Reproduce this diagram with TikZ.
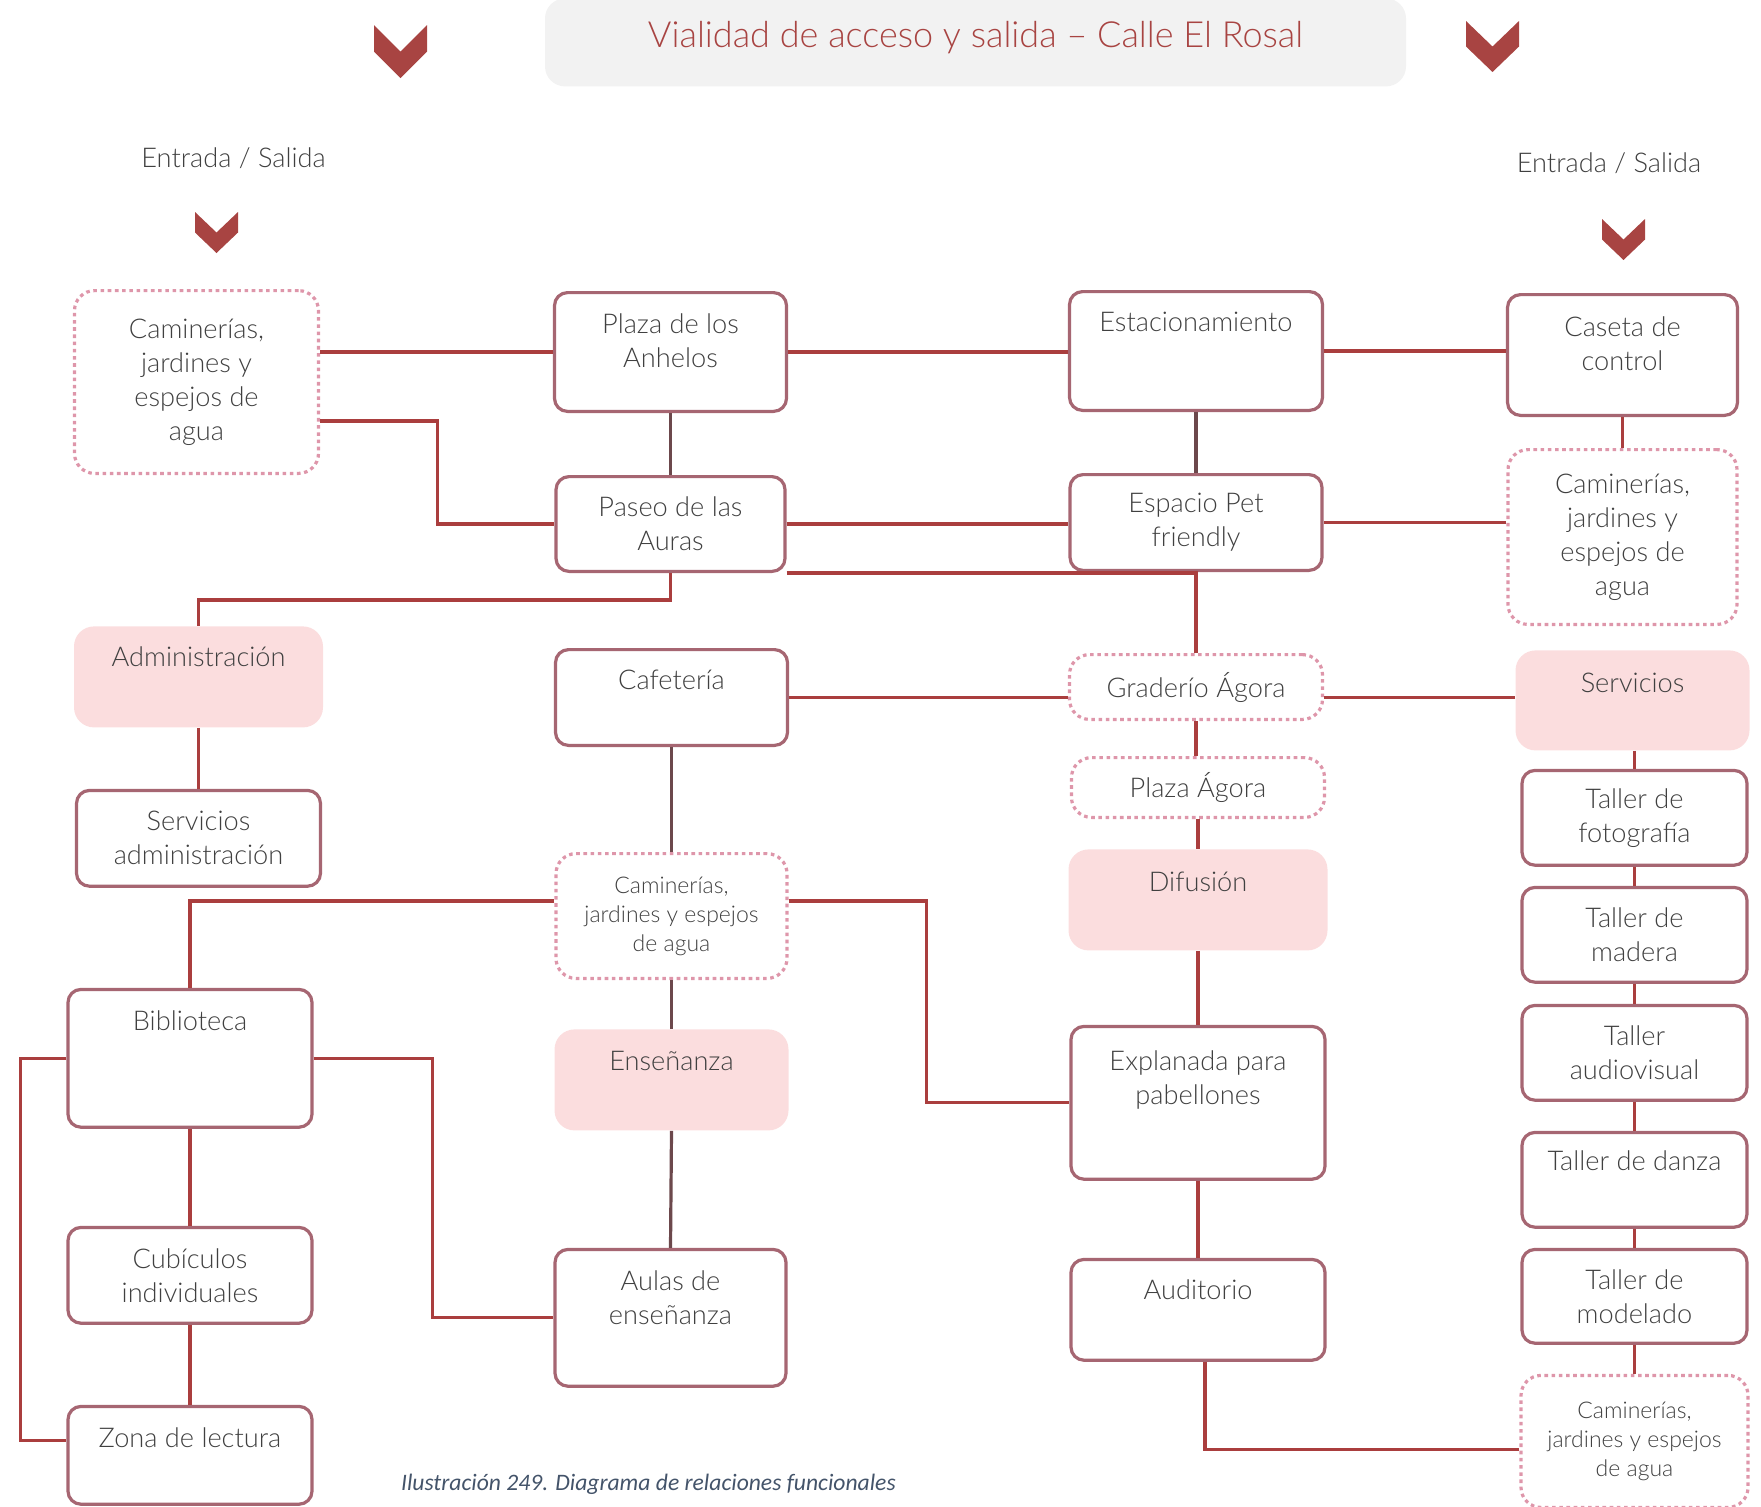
\documentclass[tikz,border=0pt]{standalone}
\usepackage{fontspec}
\setmainfont{Lato Light}
\newfontfamily\capfont{Carlito}
\usepackage{tikz}
\usetikzlibrary{positioning}
\definecolor{ink}{RGB}{64,64,64}
\definecolor{linered}{RGB}{170,62,62}
\definecolor{linedark}{RGB}{108,72,76}
\definecolor{boxline}{RGB}{166,102,114}
\definecolor{dotpink}{RGB}{222,150,170}
\definecolor{pinkfill}{RGB}{251,221,222}
\definecolor{chevred}{RGB}{168,68,66}
\definecolor{titlegray}{RGB}{242,242,242}
\definecolor{capcol}{RGB}{68,84,106}
\newcommand\bxfont{\fontsize{13.6pt}{17pt}\selectfont}
\newcommand\smfont{\fontsize{11.5pt}{14.5pt}\selectfont}
\newcommand\ttlfont{\fontsize{18pt}{22pt}\selectfont}

\begin{document}
\begin{tikzpicture}[x=0.5pt, y=-0.5pt,
  base/.style={align=center, font=\bxfont, text=ink, inner xsep=2pt},
  box/.style={base, draw=boxline, line width=1.6pt, rounded corners=6.5pt, fill=white},
  dotbox/.style={base, draw=dotpink, line width=1.6pt, dash pattern=on 1.8pt off 1.8pt,
                 rounded corners=10pt},
  pinkbox/.style={base, fill=pinkfill, rounded corners=10pt},
  tophold/.style 2 args={inner ysep=0pt, text height=#1, text depth=#2},
  ln/.style={draw=linered, line width=1.6pt},
  dk/.style={draw=linedark, line width=1.6pt}]
\useasboundingbox (0,0) rectangle (1761,1506);

% --- title and entrances
\node[fill=titlegray, rounded corners=10pt, minimum width=430.5pt, text=chevred,
  font=\ttlfont, anchor=north, tophold={24.5pt}{19.5pt}] (title) at (975.5,-2)
  {Vialidad de acceso y salida – Calle El Rosal};
\node[base] (in1) at (233.6,158) {Entrada / Salida};
\node[base] (in2) at (1609,163) {Entrada / Salida};
\foreach \cx/\cy/\w/\h in {400.5/25/53/53, 1492.5/21/53/51, 216.5/212/43/41, 1623.5/219/43/41}
  \fill[chevred] (\cx-\w/2,\cy) -- (\cx,\cy+\h/2) -- (\cx+\w/2,\cy) -- (\cx+\w/2,\cy+\h/2)
    -- (\cx,\cy+\h) -- (\cx-\w/2,\cy+\h/2) -- cycle;

% --- column 1
\node[dotbox, anchor=north, minimum width=122pt, minimum height=91.4pt] (cam1) at (196.5,289)
  {Caminerías,\\jardines y\\espejos de\\agua};
\node[pinkbox, below=75.5pt of cam1, xshift=1pt, minimum width=124.5pt,
  tophold={20pt}{30.5pt}] (admin) {Administración};
\node[box, below=30.5pt of admin, minimum width=122pt, minimum height=47.9pt] (servadm)
  {Servicios\\administración};
\node[box, below=50pt of servadm, xshift=-4.25pt, minimum width=122pt,
  tophold={20.5pt}{48.4pt}] (biblio) {Biblioteca};
\node[box, below=48.5pt of biblio, minimum width=122pt, minimum height=47.9pt] (cubic)
  {Cubículos\\individuales};
\node[box, below=40pt of cubic, minimum width=122pt, tophold={20.5pt}{28.4pt}] (zona)
  {Zona de lectura};

% --- column 2
\node[box, anchor=north, minimum width=116pt, tophold={37.25pt}{22.15pt}] (anhelos)
  at (670.5,291) {Plaza de los\\Anhelos};
\node[box, below=31pt of anhelos, minimum width=114.5pt, minimum height=47.4pt] (paseo)
  {Paseo de las\\Auras};
\node[box, below=37.5pt of paseo, xshift=0.5pt, minimum width=116pt,
  tophold={19.75pt}{28.15pt}] (cafe) {Cafetería};
\node[dotbox, font=\smfont, below=52.5pt of cafe, minimum width=115.5pt, minimum height=62.4pt]
  (cam2) {Caminerías,\\jardines y espejos\\de agua};
\node[pinkbox, below=24.5pt of cam2, minimum width=117pt, tophold={20.75pt}{29.75pt}]
  (ensen) {Enseñanza};
\node[box, below=58.5pt of ensen, xshift=-0.5pt, minimum width=115.5pt,
  tophold={37.5pt}{30.9pt}] (aulas) {Aulas de\\enseñanza};

% --- column 3
\node[box, anchor=north, minimum width=126.5pt, tophold={20pt}{39.4pt}] (estac) at (1196,290)
  {Estacionamiento};
\node[box, below=30.5pt of estac, minimum width=126pt, minimum height=47.9pt] (pet)
  {Espacio Pet\\friendly};
\node[dotbox, below=40.5pt of pet, minimum width=126.5pt, minimum height=32.4pt] (grad)
  {Graderío Ágora};
\node[dotbox, below=17.5pt of grad, xshift=1pt, minimum width=126.5pt, minimum height=29.9pt]
  (plagora) {Plaza Ágora};
\node[pinkbox, below=15pt of plagora, minimum width=129.5pt, tophold={21pt}{29.5pt}]
  (difus) {Difusión};
\node[box, below=37pt of difus, minimum width=127pt, tophold={39pt}{37.4pt}] (expl)
  {Explanada para\\pabellones};
\node[box, below=38.5pt of expl, minimum width=127pt, tophold={20pt}{30.4pt}] (audit)
  {Auditorio};

% --- column 4
\node[box, anchor=north, minimum width=115pt, tophold={38pt}{22.4pt}] (caseta)
  at (1622.5,293) {Caseta de\\control};
\node[dotbox, below=15.5pt of caseta, minimum width=114.5pt, minimum height=87.4pt] (cam3)
  {Caminerías,\\jardines y\\espejos de\\agua};
\node[pinkbox, below=12pt of cam3, xshift=5pt, minimum width=117pt, tophold={21pt}{29pt}]
  (serv) {Servicios};
\node[box, below=9pt of serv, xshift=1pt, minimum width=112.5pt, minimum height=47.4pt] (foto)
  {Taller de\\fotografía};
\node[box, below=9.5pt of foto, minimum width=112.5pt, minimum height=47.4pt] (madera)
  {Taller de\\madera};
\node[box, below=10pt of madera, minimum width=112.5pt, minimum height=47.4pt] (audio)
  {Taller\\audiovisual};
\node[box, below=14.5pt of audio, minimum width=112.5pt, tophold={19pt}{28.4pt}] (danza)
  {Taller de danza};
\node[box, below=9.5pt of danza, minimum width=112.5pt, minimum height=46.9pt] (model)
  {Taller de\\modelado};
\node[dotbox, font=\smfont, below=14.5pt of model, minimum width=113.5pt, minimum height=66pt]
  (cam4) {Caminerías,\\jardines y espejos\\de agua};

\node[anchor=west, font=\capfont\itshape\fontsize{11.8pt}{14pt}\selectfont, text=capcol]
  (cap) at (394,1484) {Ilustración 249. Diagrama de relaciones funcionales};

% --- connectors
\draw[ln] (anhelos.west -| cam1.east) -- (anhelos.west);
\draw[ln] ([yshift=-19.5pt]cam1.east) -- ++(117,0) |- (paseo.west);
\draw[dk] (anhelos.south) -- (paseo.north);
\draw[ln] (anhelos.east) -- (anhelos.east -| estac.west);
\draw[ln] (estac.east) -- (estac.east -| caseta.west);
\draw[dk] (estac.south) -- (pet.north);
\draw[ln] (paseo.east) -- (paseo.east -| pet.west);
\draw[ln] (pet.east) -- (pet.east -| cam3.west);
\draw[ln] (caseta.south) -- (cam3.north);
\draw[ln] (paseo.south) -- ++(0,27) -| (admin.north);
\draw[ln] (paseo.south east) -| (grad.north);
\draw[ln] (pet.south) -- (grad.north);
\draw[ln] (admin.south) -- (servadm.north);
\draw[ln] (cafe.east) -- (cafe.east -| grad.west);
\draw[ln] (cafe.east -| grad.east) -- (cafe.east -| serv.west);
\draw[ln] (grad.south) -- (grad.south |- plagora.north);
\draw[ln] (plagora.south) -- (plagora.south |- difus.north);
\draw[ln] (difus.south) -- (expl.north);
\draw[ln] (expl.south) -- (audit.north);
\draw[dk] (cafe.south) -- (cam2.north);
\draw[ln] ([yshift=7.5pt]cam2.west) -| (biblio.north);
\draw[ln] ([yshift=7.5pt]cam2.east) -- ++(138,0) |- (expl.west);
\draw[dk] (cam2.south) -- (ensen.north);
\draw[dk] (ensen.south) -- (aulas.north);
\draw[ln] (biblio.east) -- ++(119,0) |- (aulas.west);
\draw[ln] (biblio.west) -- ++(-46,0) |- ([yshift=7.5pt]zona.west);
\draw[ln] (biblio.south) -- (cubic.north);
\draw[ln] (cubic.south) -- (zona.north);
\draw[ln] (foto.north |- serv.south) -- (foto.north);
\draw[ln] (foto.south) -- (madera.north);
\draw[ln] (madera.south) -- (audio.north);
\draw[ln] (audio.south) -- (danza.north);
\draw[ln] (danza.south) -- (model.north);
\draw[ln] (model.south) -- (cam4.north);
\draw[ln] ([xshift=3.5pt]audit.south) |- ([yshift=-4pt]cam4.west);
\end{tikzpicture}
\end{document}
